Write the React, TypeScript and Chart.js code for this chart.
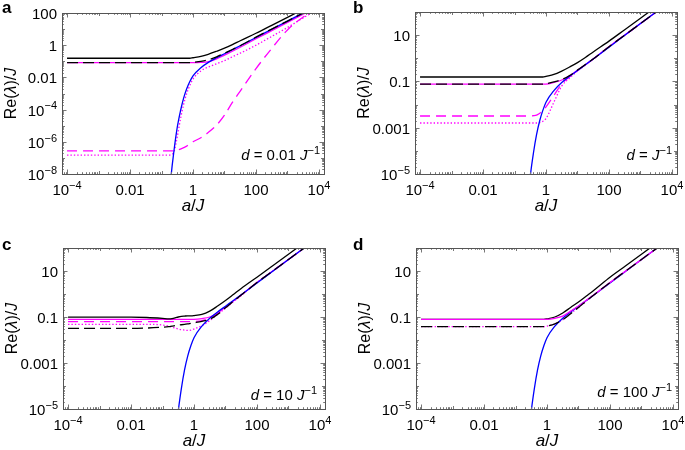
import { useEffect, useRef } from "react";
import { Chart, registerables } from "chart.js";
Chart.register(...registerables);

const FONT = '"Liberation Sans", Arial, Helvetica, sans-serif';

// a/J sample values (shared by every curve)
const A = [1e-4, 1e-3, 0.01, 0.0316, 0.1, 0.158, 0.2, 0.251, 0.316, 0.398, 0.501, 0.631, 0.794, 1, 1.78, 3.16, 5.62, 10, 17.8, 31.6, 100, 316, 1000, 3160, 10000];

const X_TICKS = [1e-4, 0.01, 1, 100, 1e4];
const X_LABELS = ["10^−4", "0.01", "1", "100", "10^4"];
const Y_TICKS_A = [100, 1, 0.01, 1e-4, 1e-6, 1e-8];
const Y_LABELS_A = ["100", "1", "0.01", "10^−4", "10^−6", "10^−8"];
const Y_TICKS_BCD = [10, 0.1, 0.001, 1e-5];
const Y_LABELS_BCD = ["10", "0.1", "0.001", "10^−5"];

// blue curve (same in all panels)
const BLUE = [null, null, null, null, null, 1e-11, 6.3e-9, 3.2e-7, 7.9e-6, 7.9e-5, 5e-4, 2e-3, 5.6e-3, 0.0126, 0.04, 0.089, 0.166, 0.295, 0.525, 0.93, 3.0, 9.8, 31.6, 100, 316];

// panel a
const A_BLACK = [0.155, 0.155, 0.155, 0.155, 0.155, 0.155, 0.155, 0.155, 0.155, 0.155, 0.155, 0.155, 0.155, 0.166, 0.2, 0.28, 0.42, 0.65, 1.08, 1.88, 5.5, 17.2, 54, 170, 540];
const A_BLACK_DASH = [0.083, 0.083, 0.083, 0.083, 0.083, 0.083, 0.083, 0.083, 0.083, 0.083, 0.083, 0.083, 0.083, 0.087, 0.1, 0.126, 0.19, 0.32, 0.54, 0.93, 3.16, 10, 31.6, 100, 316];
const A_MAG = [0.083, 0.083, 0.083, 0.083, 0.083, 0.083, 0.083, 0.083, 0.083, 0.083, 0.083, 0.083, 0.083, 0.083, 0.085, 0.095, 0.14, 0.24, 0.42, 0.75, 2.5, 8.0, 26, 85, 270];
const A_MAG_DASH = [2.7e-7, 2.7e-7, 2.7e-7, 2.7e-7, 2.7e-7, 2.7e-7, 2.7e-7, 2.7e-7, 3.0e-7, 3.5e-7, 4.3e-7, 5.4e-7, 7.6e-7, 1e-6, 1.8e-6, 4e-6, 1.1e-5, 4.5e-5, 2.8e-4, 1.4e-3, 0.035, 0.63, 8.9, 56, 224];
const A_MAG_DOT = [1.5e-7, 1.5e-7, 1.5e-7, 1.5e-7, 1.5e-7, 1.5e-7, 1.6e-7, 2.5e-7, 2e-6, 2.5e-5, 2e-4, 1e-3, 3.2e-3, 7.9e-3, 0.025, 0.045, 0.071, 0.11, 0.19, 0.32, 1.0, 3.5, 12.6, 50, 200];

// panel b
const B_BLACK = [0.155, 0.155, 0.155, 0.155, 0.155, 0.155, 0.155, 0.155, 0.155, 0.155, 0.155, 0.155, 0.155, 0.166, 0.2, 0.28, 0.42, 0.65, 1.08, 1.88, 5.5, 17.2, 54, 170, 540];
const B_BLACK_DASH = [0.077, 0.077, 0.077, 0.077, 0.077, 0.077, 0.077, 0.077, 0.077, 0.077, 0.077, 0.077, 0.077, 0.08, 0.095, 0.12, 0.18, 0.31, 0.54, 0.93, 3.16, 10, 31.6, 100, 316];
const B_MAG = [0.077, 0.077, 0.077, 0.077, 0.077, 0.077, 0.077, 0.077, 0.077, 0.077, 0.077, 0.077, 0.077, 0.077, 0.09, 0.115, 0.175, 0.3, 0.53, 0.93, 3.16, 10, 31.6, 100, 316];
const B_MAG_DASH = [3.2e-3, 3.2e-3, 3.2e-3, 3.2e-3, 3.2e-3, 3.2e-3, 3.2e-3, 3.2e-3, 3.2e-3, 3.3e-3, 3.5e-3, 4.2e-3, 5.2e-3, 7.9e-3, 0.025, 0.079, 0.158, 0.295, 0.525, 0.93, 3.16, 10, 31.6, 100, 316];
const B_MAG_DOT = [1.6e-3, 1.6e-3, 1.6e-3, 1.6e-3, 1.6e-3, 1.6e-3, 1.6e-3, 1.6e-3, 1.6e-3, 1.6e-3, 1.6e-3, 1.65e-3, 1.9e-3, 2.5e-3, 0.0126, 0.063, 0.14, 0.28, 0.51, 0.92, 3.16, 10, 31.6, 100, 316];

// panel c
const C_BLACK = [0.098, 0.098, 0.098, 0.095, 0.087, 0.083, 0.085, 0.091, 0.1, 0.107, 0.11, 0.112, 0.112, 0.115, 0.13, 0.18, 0.3, 0.52, 0.95, 1.75, 5.4, 17, 54, 170, 540];
const C_BLACK_DASH = [0.032, 0.032, 0.032, 0.033, 0.036, 0.038, 0.04, 0.042, 0.044, 0.046, 0.048, 0.05, 0.053, 0.056, 0.065, 0.08, 0.13, 0.25, 0.48, 0.9, 3.16, 10, 31.6, 100, 316];
const C_MAG = [0.079, 0.079, 0.079, 0.079, 0.079, 0.079, 0.079, 0.079, 0.079, 0.079, 0.079, 0.079, 0.079, 0.079, 0.085, 0.1, 0.15, 0.27, 0.5, 0.9, 3.16, 10, 31.6, 100, 316];
const C_MAG_DASH = [0.063, 0.063, 0.063, 0.063, 0.063, 0.063, 0.063, 0.063, 0.063, 0.063, 0.063, 0.063, 0.063, 0.064, 0.07, 0.09, 0.14, 0.26, 0.49, 0.9, 3.16, 10, 31.6, 100, 316];
const C_MAG_DOT = [0.048, 0.048, 0.048, 0.048, 0.045, 0.04, 0.036, 0.033, 0.03, 0.028, 0.027, 0.026, 0.027, 0.03, 0.042, 0.07, 0.13, 0.24, 0.46, 0.86, 3.16, 10, 31.6, 100, 316];

// panel d
const D_BLACK = [0.079, 0.079, 0.079, 0.079, 0.079, 0.079, 0.079, 0.079, 0.079, 0.079, 0.079, 0.079, 0.079, 0.083, 0.1, 0.15, 0.26, 0.45, 0.82, 1.5, 5.4, 17, 54, 170, 540];
const D_BLACK_DASH = [0.038, 0.038, 0.038, 0.038, 0.038, 0.038, 0.038, 0.038, 0.038, 0.038, 0.038, 0.038, 0.038, 0.04, 0.05, 0.076, 0.14, 0.26, 0.5, 0.93, 3.16, 10, 31.6, 100, 316];
const D_MAG = [0.079, 0.079, 0.079, 0.079, 0.079, 0.079, 0.079, 0.079, 0.079, 0.079, 0.079, 0.079, 0.079, 0.079, 0.088, 0.11, 0.18, 0.3, 0.53, 0.95, 3.16, 10, 31.6, 100, 316];
const D_MAG_DOT = [0.038, 0.038, 0.038, 0.038, 0.038, 0.038, 0.038, 0.038, 0.038, 0.038, 0.038, 0.038, 0.038, 0.04, 0.05, 0.076, 0.14, 0.26, 0.5, 0.93, 3.16, 10, 31.6, 100, 316];

const MAGENTA = "#f0f";
const BLACK = "#000";
const BLUEC = "#0000ff";

type Seg = { t: string; it?: boolean; sup?: boolean };
type Series = { data: (number | null)[]; color: string; dash: number[] };
type Panel = {
  letter: string;
  left: number; top: number; w: number; h: number;
  pad: { left: number; right: number; top: number; bottom: number };
  yMin: number; yMax: number;
  yTicks: number[]; yLabels: string[];
  note: Seg[]; noteRight: number; noteBase: number;
  letterX: number; letterBase: number;
  series: Series[];
};

const S = (data: (number | null)[], color: string, dash: number[] = []): Series => ({ data, color, dash });
const DASH = [11, 5];
const MDASH = [10, 6];
const DOT = [1.4, 2];

const PANELS: Panel[] = [
  {
    letter: "a", left: 0, top: 0, w: 342, h: 225,
    pad: { left: 62, right: 18, top: 13, bottom: 51 },
    yMin: 1e-8, yMax: 100, yTicks: Y_TICKS_A, yLabels: Y_LABELS_A,
    note: [{ t: "d", it: true }, { t: " = 0.01 " }, { t: "J", it: true }, { t: "−1", sup: true }],
    noteRight: 320, noteBase: 160, letterX: 2, letterBase: 13,
    series: [S(A_BLACK_DASH, BLACK, DASH), S(A_BLACK, BLACK), S(BLUE, BLUEC), S(A_MAG, MAGENTA), S(A_MAG_DASH, MAGENTA, MDASH), S(A_MAG_DOT, MAGENTA, DOT)],
  },
  {
    letter: "b", left: 342, top: 0, w: 343, h: 225,
    pad: { left: 73, right: 8, top: 12, bottom: 51 },
    yMin: 1e-5, yMax: 100, yTicks: Y_TICKS_BCD, yLabels: Y_LABELS_BCD,
    note: [{ t: "d", it: true }, { t: " = " }, { t: "J", it: true }, { t: "−1", sup: true }],
    noteRight: 330, noteBase: 160, letterX: 11, letterBase: 13,
    series: [S(B_BLACK_DASH, BLACK, DASH), S(B_BLACK, BLACK), S(BLUE, BLUEC), S(B_MAG, MAGENTA), S(B_MAG_DASH, MAGENTA, MDASH), S(B_MAG_DOT, MAGENTA, DOT)],
  },
  {
    letter: "c", left: 0, top: 225, w: 342, h: 225,
    pad: { left: 63, right: 17, top: 23, bottom: 41 },
    yMin: 1e-5, yMax: 100, yTicks: Y_TICKS_BCD, yLabels: Y_LABELS_BCD,
    note: [{ t: "d", it: true }, { t: " = 10 " }, { t: "J", it: true }, { t: "−1", sup: true }],
    noteRight: 317, noteBase: 175, letterX: 2, letterBase: 25,
    series: [S(C_BLACK_DASH, BLACK, DASH), S(C_BLACK, BLACK), S(BLUE, BLUEC), S(C_MAG, MAGENTA), S(C_MAG_DASH, MAGENTA, MDASH), S(C_MAG_DOT, MAGENTA, DOT)],
  },
  {
    letter: "d", left: 342, top: 225, w: 343, h: 225,
    pad: { left: 74, right: 7, top: 23, bottom: 41 },
    yMin: 1e-5, yMax: 100, yTicks: Y_TICKS_BCD, yLabels: Y_LABELS_BCD,
    note: [{ t: "d", it: true }, { t: " = 100 " }, { t: "J", it: true }, { t: "−1", sup: true }],
    noteRight: 330, noteBase: 172, letterX: 11, letterBase: 25,
    series: [S(D_BLACK_DASH, BLACK, DASH), S(D_MAG, MAGENTA), S(D_BLACK, BLACK), S(BLUE, BLUEC), S(D_MAG_DOT, MAGENTA, DOT)],
  },
];

const X_MIN = Math.pow(10, -4.16);
const X_MAX = Math.pow(10, 4.16);

const TICK_SIZE = 15;

function segFont(s: Seg, size: number, bold = false) {
  const sz = s.sup ? Math.round(size * 0.7) : size;
  return `${s.it ? "italic " : ""}${bold ? "bold " : ""}${sz}px ${FONT}`;
}
function segsWidth(ctx: CanvasRenderingContext2D, segs: Seg[], size: number) {
  let w = 0;
  for (const s of segs) { ctx.font = segFont(s, size); w += ctx.measureText(s.t).width; }
  return w;
}
function drawSegs(ctx: CanvasRenderingContext2D, segs: Seg[], x: number, y: number, align: "left" | "center" | "right", size: number) {
  const w = segsWidth(ctx, segs, size);
  let cx = align === "left" ? x : align === "center" ? x - w / 2 : x - w;
  ctx.textAlign = "left";
  ctx.textBaseline = "alphabetic";
  for (const s of segs) {
    ctx.font = segFont(s, size);
    ctx.fillText(s.t, cx, s.sup ? y - size * 0.42 : y);
    cx += ctx.measureText(s.t).width;
  }
}
function labelSegs(l: string): Seg[] {
  const p = l.split("^");
  return p.length > 1 ? [{ t: p[0] }, { t: p[1], sup: true }] : [{ t: l }];
}

function makeDeco(p: Panel) {
  return {
    id: "deco" + p.letter,
    afterDraw(chart: any) {
      const ctx: CanvasRenderingContext2D = chart.ctx;
      const { left, right, top, bottom } = chart.chartArea;
      const xs = chart.scales.x;
      const ys = chart.scales.y;
      ctx.save();
      // ticks
      ctx.strokeStyle = "#777";
      ctx.lineWidth = 1;
      ctx.beginPath();
      for (let k = -5; k <= 5; k++) {
        for (let m = 1; m <= 9; m++) {
          const v = m * Math.pow(10, k);
          if (v < X_MIN || v > X_MAX) continue;
          const px = Math.round(xs.getPixelForValue(v)) + 0.5;
          const len = m === 1 ? (k % 2 === 0 ? 4.5 : 3) : 1.8;
          ctx.moveTo(px, bottom); ctx.lineTo(px, bottom - len);
          ctx.moveTo(px, top); ctx.lineTo(px, top + len);
        }
      }
      const kLo = Math.round(Math.log10(p.yMin));
      const kHi = Math.round(Math.log10(p.yMax));
      for (let k = kLo; k <= kHi; k++) {
        for (let m = 1; m <= 9; m++) {
          const v = m * Math.pow(10, k);
          if (v < p.yMin * 0.999 || v > p.yMax * 1.001) continue;
          const py = Math.round(ys.getPixelForValue(v)) + 0.5;
          const labeled = p.yTicks.some((t) => Math.abs(Math.log10(t) - k) < 1e-6);
          const len = m === 1 ? (labeled ? 4.5 : 3) : 1.8;
          ctx.moveTo(left, py); ctx.lineTo(left + len, py);
          ctx.moveTo(right, py); ctx.lineTo(right - len, py);
        }
      }
      ctx.stroke();
      // frame
      ctx.strokeStyle = "#555";
      ctx.lineWidth = 1;
      ctx.strokeRect(Math.round(left) + 0.5, Math.round(top) + 0.5, Math.round(right - left), Math.round(bottom - top));
      // tick labels
      ctx.fillStyle = "#000";
      X_TICKS.forEach((v, i) => {
        drawSegs(ctx, labelSegs(X_LABELS[i]), xs.getPixelForValue(v), bottom + 21, "center", TICK_SIZE);
      });
      p.yTicks.forEach((v, i) => {
        drawSegs(ctx, labelSegs(p.yLabels[i]), left - 5, ys.getPixelForValue(v) + 6, "right", TICK_SIZE);
      });
      // axis titles
      drawSegs(ctx, [{ t: "a", it: true }, { t: "/" }, { t: "J", it: true }], (left + right) / 2, bottom + 37, "center", 17);
      ctx.save();
      ctx.translate(left - 46, (top + bottom) / 2);
      ctx.rotate(-Math.PI / 2);
      drawSegs(ctx, [{ t: "Re(" }, { t: "λ", it: true }, { t: ")/" }, { t: "J", it: true }], 0, 0, "center", 16);
      ctx.restore();
      // note
      drawSegs(ctx, p.note, p.noteRight, p.noteBase, "right", 15);
      // panel letter
      ctx.font = `bold 17px ${FONT}`;
      ctx.textAlign = "left";
      ctx.fillText(p.letter, p.letterX, p.letterBase);
      ctx.restore();
    },
  };
}

function PanelChart({ p }: { p: Panel }) {
  const ref = useRef<HTMLCanvasElement>(null);
  useEffect(() => {
    if (!ref.current) return;
    const chart = new Chart(ref.current, {
      type: "line",
      data: {
        datasets: p.series.map((s) => ({
          data: A.map((x, i) => ({ x, y: s.data[i] })) as any,
          borderColor: s.color,
          borderWidth: 1.3,
          borderDash: s.dash,
          pointRadius: 0,
          fill: false,
          cubicInterpolationMode: "monotone" as const,
          spanGaps: false,
        })),
      },
      options: {
        animation: false,
        responsive: false,
        events: [],
        layout: { padding: p.pad },
        plugins: { legend: { display: false }, tooltip: { enabled: false } },
        scales: {
          x: { type: "logarithmic", min: X_MIN, max: X_MAX, display: false },
          y: { type: "logarithmic", min: p.yMin, max: p.yMax, display: false },
        },
      },
      plugins: [makeDeco(p)],
    });
    return () => chart.destroy();
  }, [p]);
  return (
    <canvas
      ref={ref}
      width={p.w}
      height={p.h}
      style={{ position: "absolute", left: p.left, top: p.top, width: p.w, height: p.h }}
    />
  );
}

export default function App() {
  return (
    <div style={{ position: "fixed", left: 0, top: 0, width: 685, height: 450, background: "#fff", overflow: "hidden" }}>
      {PANELS.map((p) => (
        <PanelChart key={p.letter} p={p} />
      ))}
    </div>
  );
}
